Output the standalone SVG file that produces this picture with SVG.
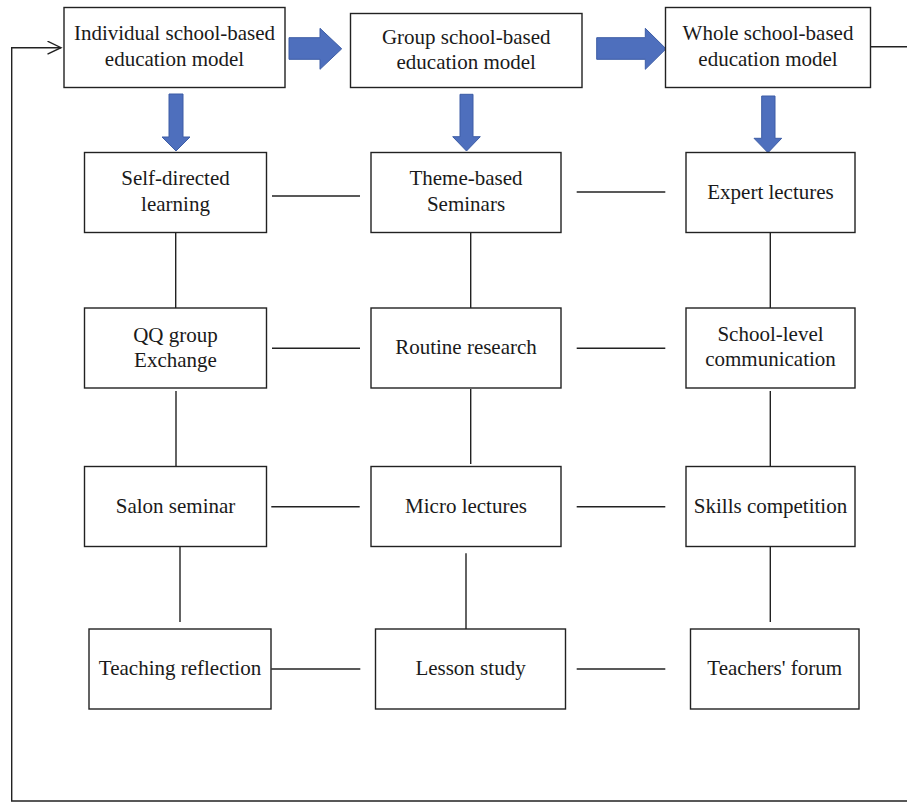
<svg xmlns="http://www.w3.org/2000/svg" width="907" height="803" viewBox="0 0 907 803">
<style>
  .box { fill: #ffffff; stroke: #222222; stroke-width: 1.4; }
  .lbl { font-family: "Liberation Serif", "Times New Roman", serif; font-size: 21px; fill: #1a1a1a; text-anchor: middle; }
  .ln { stroke: #222222; stroke-width: 1.4; fill: none; }
  .blk { fill: #4e6fbd; stroke: #3d5da6; stroke-width: 1; }
</style>
<defs>
  <marker id="open" markerWidth="16" markerHeight="16" refX="14" refY="7" orient="auto" markerUnits="userSpaceOnUse">
    <path d="M0.5,0.5 L14,7 L0.5,13.5" fill="none" stroke="#222222" stroke-width="1.4"/>
  </marker>
</defs>
<rect width="907" height="803" fill="#ffffff"/>

<g id="connectors">
  <!-- feedback loop -->
  <line class="ln" x1="871" y1="46.7" x2="907" y2="46.7"/>
  <polyline class="ln" points="907,801 11.7,801 11.7,47.7 61,47.7" marker-end="url(#open)"/>
  <!-- block arrows -->
  <path class="blk" d="M289,37.7 H320 V28.3 L341.7,48.8 L320,69.3 V59.3 H289 Z"/>
  <path class="blk" d="M596.7,37.7 H645.3 V28.3 L666,48.8 L645.3,69.3 V59.3 H596.7 Z"/>
  <path class="blk" d="M169,94 H183 V137 H190 L176,151 L162,137 H169 Z"/>
  <path class="blk" d="M460,94.3 H473 V136.7 H480.3 L466.5,151 L452.7,136.7 H460 Z"/>
  <path class="blk" d="M761.7,96 H775 V138.3 H781.7 L768,152.7 L754,138.3 H761.7 Z"/>
  <!-- horizontal links -->
  <line class="ln" x1="272" y1="196" x2="360" y2="196"/>
  <line class="ln" x1="576.7" y1="192" x2="665.3" y2="192"/>
  <line class="ln" x1="272" y1="348.3" x2="360" y2="348.3"/>
  <line class="ln" x1="576.7" y1="348.3" x2="665.3" y2="348.3"/>
  <line class="ln" x1="271.3" y1="506.7" x2="359.7" y2="506.7"/>
  <line class="ln" x1="576.7" y1="506.7" x2="665.3" y2="506.7"/>
  <line class="ln" x1="271.3" y1="669" x2="360.3" y2="669"/>
  <line class="ln" x1="576.7" y1="669" x2="665.3" y2="669"/>
  <!-- vertical links -->
  <line class="ln" x1="175.7" y1="232.5" x2="175.7" y2="308"/>
  <line class="ln" x1="176" y1="391" x2="176" y2="466.5"/>
  <line class="ln" x1="180" y1="546.5" x2="180" y2="622"/>
  <line class="ln" x1="470.7" y1="232.5" x2="470.7" y2="308"/>
  <line class="ln" x1="470.7" y1="389" x2="470.7" y2="464"/>
  <line class="ln" x1="466" y1="553.3" x2="466" y2="629"/>
  <line class="ln" x1="770.3" y1="232.5" x2="770.3" y2="308"/>
  <line class="ln" x1="770.3" y1="391" x2="770.3" y2="466.5"/>
  <line class="ln" x1="770.3" y1="546.5" x2="770.3" y2="622"/>
</g>

<g id="individual">
  <rect class="box" x="64" y="7.5" width="221" height="80"/>
  <text class="lbl" x="174.5" y="39.5">Individual school-based</text>
  <text class="lbl" x="174.5" y="65.5">education model</text>
</g>
<g id="group">
  <rect class="box" x="350.5" y="13.5" width="231.5" height="74"/>
  <text class="lbl" x="466.2" y="43.5">Group school-based</text>
  <text class="lbl" x="466.2" y="68.5">education model</text>
</g>
<g id="whole">
  <rect class="box" x="665.5" y="7.5" width="205" height="80"/>
  <text class="lbl" x="768" y="39.5">Whole school-based</text>
  <text class="lbl" x="768" y="65.5">education model</text>
</g>

<g id="self-directed">
  <rect class="box" x="84.5" y="152.5" width="182" height="80"/>
  <text class="lbl" x="175.5" y="185">Self-directed</text>
  <text class="lbl" x="175.5" y="210.7">learning</text>
</g>
<g id="theme-based">
  <rect class="box" x="371" y="152.5" width="190" height="80"/>
  <text class="lbl" x="466" y="185">Theme-based</text>
  <text class="lbl" x="466" y="210.5">Seminars</text>
</g>
<g id="expert">
  <rect class="box" x="686" y="152.5" width="169" height="80"/>
  <text class="lbl" x="770.5" y="198.5">Expert lectures</text>
</g>

<g id="qq">
  <rect class="box" x="84.5" y="308" width="182" height="80"/>
  <text class="lbl" x="175.5" y="341.5">QQ group</text>
  <text class="lbl" x="175.5" y="366.7">Exchange</text>
</g>
<g id="routine">
  <rect class="box" x="371" y="308" width="190" height="80"/>
  <text class="lbl" x="466" y="353.5">Routine research</text>
</g>
<g id="school-level">
  <rect class="box" x="686" y="308" width="169" height="80"/>
  <text class="lbl" x="770.5" y="340.5">School-level</text>
  <text class="lbl" x="770.5" y="365.7">communication</text>
</g>

<g id="salon">
  <rect class="box" x="84.5" y="466.5" width="182" height="80"/>
  <text class="lbl" x="175.5" y="512.5">Salon seminar</text>
</g>
<g id="micro">
  <rect class="box" x="371" y="466.5" width="190" height="80"/>
  <text class="lbl" x="466" y="512.5">Micro lectures</text>
</g>
<g id="skills">
  <rect class="box" x="686" y="466.5" width="169" height="80"/>
  <text class="lbl" x="770.5" y="512.5">Skills competition</text>
</g>

<g id="teaching">
  <rect class="box" x="89" y="629" width="182" height="80"/>
  <text class="lbl" x="180" y="675">Teaching reflection</text>
</g>
<g id="lesson">
  <rect class="box" x="375.5" y="629" width="190" height="80"/>
  <text class="lbl" x="470.5" y="675">Lesson study</text>
</g>
<g id="teachers">
  <rect class="box" x="690.5" y="629" width="168.5" height="80"/>
  <text class="lbl" x="774.7" y="675">Teachers' forum</text>
</g>
</svg>
